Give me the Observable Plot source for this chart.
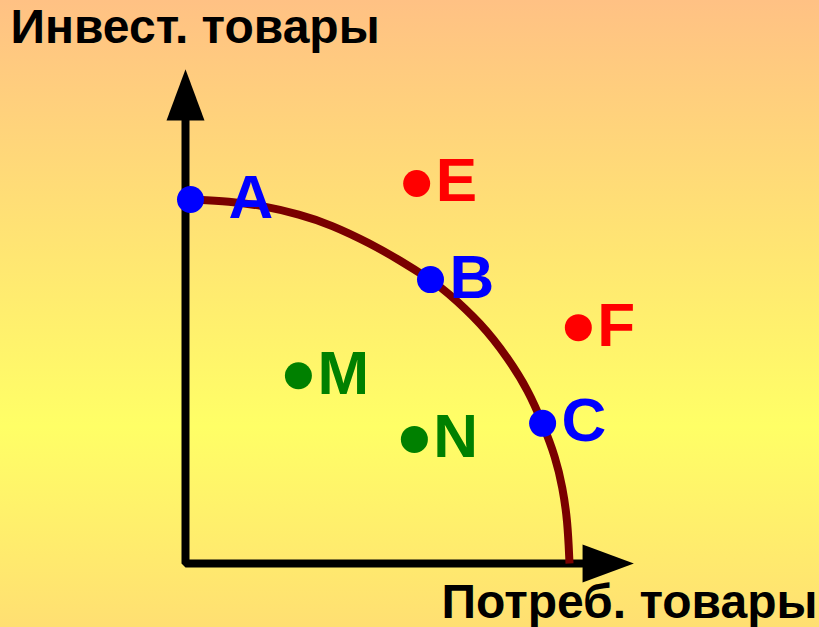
<!DOCTYPE html>
<html>
<head>
<meta charset="utf-8">
<script src="https://cdn.jsdelivr.net/npm/d3@7"></script>
<script src="https://cdn.jsdelivr.net/npm/@observablehq/plot@0.6"></script>
<style>
  html, body { margin: 0; padding: 0; width: 819px; height: 627px; overflow: hidden;
    background: linear-gradient(to bottom, #FFC184 0%, #FFFF66 68%, #FFDF72 100%); }
  #chart svg { display: block; }
</style>
</head>
<body>
<div id="chart"></div>
<script>
// Axis titles
const yTitle = "Инвест. товары";
const xTitle = "Потреб. товары";

// Production possibilities frontier
const frontierX = [1.3, 11.7, 19.5, 29.9, 37.8, 48.2, 56.0, 63.8, 67.7, 77.1, 83.9, 89.3, 93.0, 96.4, 98.2, 99.5, 100];
const frontierY = [100, 99.5, 98.4, 95.9, 93.1, 87.9, 83.2, 78.0, 75.0, 65.9, 56.6, 47.5, 38.5, 29.1, 20.9, 11.8, 0];

// Labelled points
const pointNames = ["A", "B", "C", "E", "F", "M", "N"];
const pointX = [1.3, 63.8, 93.0, 60.2, 102.3, 29.4, 59.6];
const pointY = [100, 78.0, 38.5, 104.4, 64.8, 51.6, 34.1];
const pointGroup = ["efficient", "efficient", "efficient", "unattainable", "unattainable", "inefficient", "inefficient"];

// Axis extents (arrow bases)
const xAxisEnd = 103.4;
const yAxisEnd = 121.7;

const groups = ["efficient", "unattainable", "inefficient"];
const groupColors = ["#0000FF", "#FF0000", "#008000"];

const frontier = frontierX.map((x, i) => ({x, y: frontierY[i]}));
const points = pointNames.map((name, i) => ({name, x: pointX[i], y: pointY[i], group: pointGroup[i]}));
const axisPath = [{x: 0, y: yAxisEnd}, {x: 0, y: 0}, {x: xAxisEnd, y: 0}];
const arrowHeads = [{x: 0, y: yAxisEnd, rot: 0}, {x: xAxisEnd, y: 0, rot: 90}];

const arrowSymbol = {
  draw(context, size) {
    const r = Math.sqrt(size / Math.PI);
    context.moveTo(0, -2.7 * r);
    context.lineTo(r, 0);
    context.lineTo(-r, 0);
    context.closePath();
  }
};

const font = "'Liberation Sans', Arial, Helvetica, sans-serif";

const chart = Plot.plot({
  width: 819,
  height: 627,
  margin: 0,
  x: {domain: [0, 100], range: [185, 569], axis: null},
  y: {domain: [0, 100], range: [563, 199], axis: null},
  color: {domain: groups, range: groupColors},
  style: {background: "transparent", fontFamily: font, overflow: "visible"},
  marks: [
    Plot.line(axisPath, {x: "x", y: "y", stroke: "#000", strokeWidth: 8, strokeLinejoin: "miter", curve: "linear"}),
    Plot.dot(arrowHeads, {x: "x", y: "y", rotate: "rot", symbol: arrowSymbol, r: 19, fill: "#000", stroke: "none"}),
    Plot.line(frontier, {x: "x", y: "y", stroke: "#7A0000", strokeWidth: 8, curve: "basis", strokeLinecap: "butt"}),
    Plot.dot(points, {x: "x", y: "y", r: 13.5, fill: "group", stroke: "none"}),
    Plot.text(points.filter(d => d.name !== "A"), {x: "x", y: "y", text: "name", fill: "group", fontSize: 62, fontWeight: "bold", textAnchor: "start", lineAnchor: "bottom", dx: 19, dy: 18}),
    Plot.text(points.filter(d => d.name === "A"), {x: "x", y: "y", text: "name", fill: "group", fontSize: 62, fontWeight: "bold", textAnchor: "start", lineAnchor: "bottom", dx: 38, dy: 18}),
    Plot.text([yTitle], {frameAnchor: "top-left", text: d => d, fill: "#000", fontSize: 48, fontWeight: "bold", textAnchor: "start", lineAnchor: "bottom", dx: 10, dy: 42}),
    Plot.text([xTitle], {frameAnchor: "bottom-right", text: d => d, fill: "#000", fontSize: 48, fontWeight: "bold", textAnchor: "end", lineAnchor: "bottom", dx: -2, dy: -10})
  ]
});
document.getElementById("chart").appendChild(chart);
</script>
</body>
</html>
